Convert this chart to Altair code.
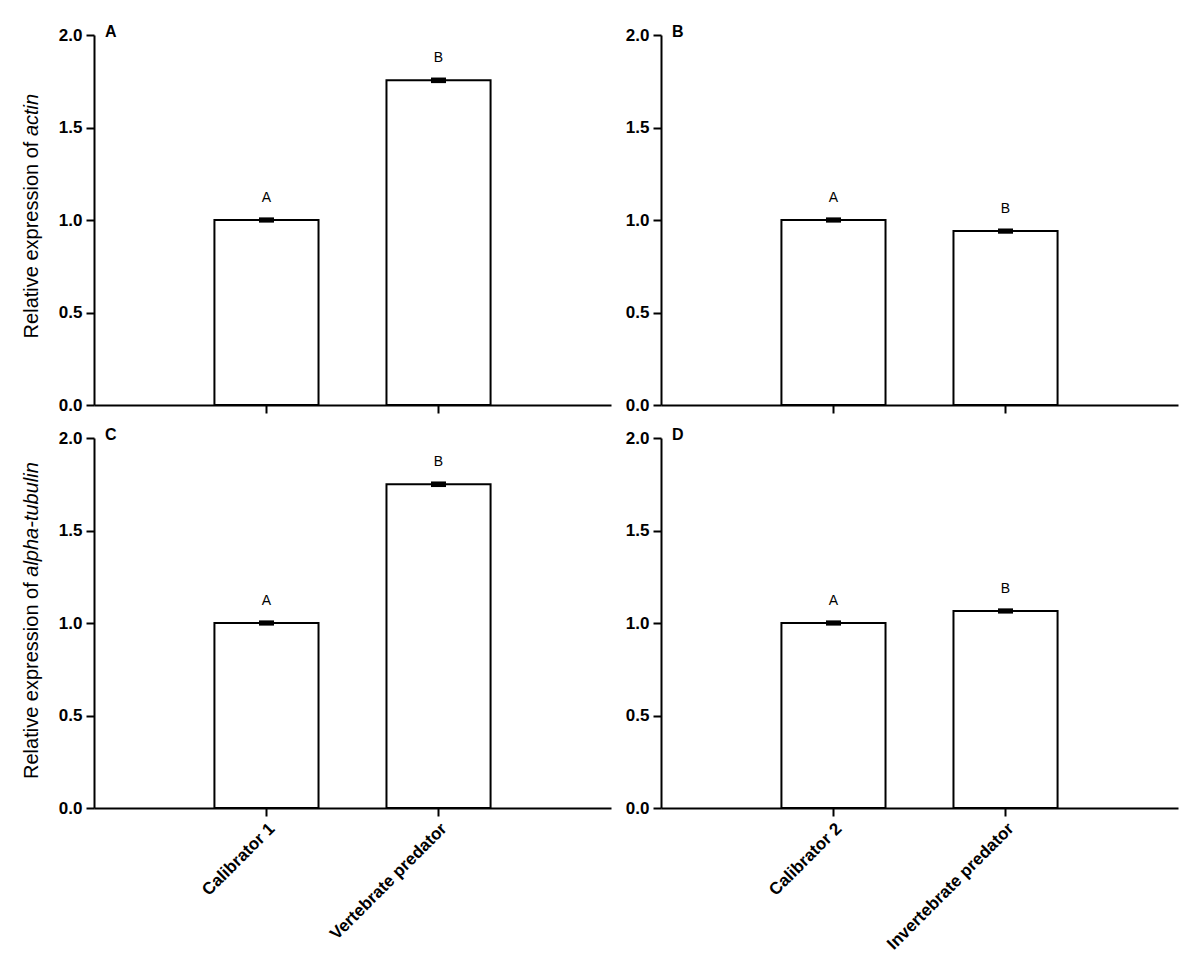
import altair as alt
import pandas as pd

# ---- data ----
left_groups = ["Calibrator 1", "Vertebrate predator"]
right_groups = ["Calibrator 2", "Invertebrate predator"]

actin_left = [1.0, 1.755]
actin_left_err = [0.006, 0.007]
actin_right = [1.0, 0.94]
actin_right_err = [0.006, 0.006]

tubulin_left = [1.0, 1.75]
tubulin_left_err = [0.006, 0.007]
tubulin_right = [1.0, 1.065]
tubulin_right_err = [0.006, 0.006]

sig_letters = ["A", "B"]
panel_labels = ["A", "B", "C", "D"]
gene_names = ["actin", "alpha-tubulin"]
title_prefix = "Relative expression of"
y_ticks = [0.0, 0.5, 1.0, 1.5, 2.0]

FONT = "Liberation Sans"
W, H = 517, 370


def panel(groups, values, errs, label, show_x_labels, gene=None, split=None):
    df = pd.DataFrame({
        "group": groups,
        "value": values,
        "lo": [v - e for v, e in zip(values, errs)],
        "hi": [v + e for v, e in zip(values, errs)],
        "letter": sig_letters,
    })
    x = alt.X(
        "group:N", sort=groups,
        scale=alt.Scale(paddingInner=0.395, paddingOuter=0.70),
        axis=alt.Axis(title=None, labels=show_x_labels, labelAngle=-45,
                      labelAlign="right", labelBaseline="top",
                      labelFontWeight="bold", labelFontSize=17, labelFont=FONT,
                      labelPadding=4, tickSize=8),
    )
    yscale = alt.Scale(domain=[0, 2], nice=False)
    y = alt.Y("value:Q", scale=yscale,
              axis=alt.Axis(values=y_ticks, format=".1f", title=None, grid=False,
                            labelFontWeight="bold", labelFontSize=17, labelFont=FONT,
                            tickSize=8, labelPadding=4))
    base = alt.Chart(df)
    bars = base.mark_bar(fill="white", stroke="black", strokeWidth=2).encode(x=x, y=y)
    err = base.mark_rule(color="black", strokeWidth=2).encode(
        x=x, y=alt.Y("lo:Q", scale=yscale), y2="hi:Q")
    cap_hi = base.mark_tick(color="black", thickness=3, size=15, opacity=1).encode(
        x=x, y=alt.Y("hi:Q", scale=yscale))
    cap_lo = base.mark_tick(color="black", thickness=3, size=15, opacity=1).encode(
        x=x, y=alt.Y("lo:Q", scale=yscale))
    letters = base.mark_text(dy=-21, fontSize=14, font=FONT, color="black").encode(
        x=x, y=alt.Y("hi:Q", scale=yscale), text="letter:N")
    plab = alt.Chart(pd.DataFrame({"lab": [label]})).mark_text(
        align="left", baseline="middle", fontSize=16, fontWeight="bold",
        font=FONT, color="black").encode(
        x=alt.value(11), y=alt.value(-3), text="lab:N")
    layers = [bars, err, cap_hi, cap_lo, letters, plab]
    if gene is not None:
        t1 = alt.Chart(pd.DataFrame({"t": [title_prefix]})).mark_text(
            angle=270, align="right", baseline="middle", fontSize=20,
            font=FONT, color="black").encode(
            x=alt.value(-62), y=alt.value(split), text="t:N")
        t2 = alt.Chart(pd.DataFrame({"t": [gene]})).mark_text(
            angle=270, align="left", baseline="middle", fontSize=20,
            fontStyle="italic", font=FONT, color="black").encode(
            x=alt.value(-62), y=alt.value(split - 5.5), text="t:N")
        layers += [t1, t2]
    return alt.layer(*layers).properties(width=W, height=H)


pA = panel(left_groups, actin_left, actin_left_err, panel_labels[0], False,
           gene_names[0], 106.6)
pB = panel(right_groups, actin_right, actin_right_err, panel_labels[1], False)
pC = panel(left_groups, tubulin_left, tubulin_left_err, panel_labels[2], True,
           gene_names[1], 144.2)
pD = panel(right_groups, tubulin_right, tubulin_right_err, panel_labels[3], True)

chart = alt.vconcat(
    alt.hconcat(pA, pB, spacing=14),
    alt.hconcat(pC, pD, spacing=14),
    spacing=13,
).properties(
    padding={"top": 16, "left": 13, "right": 5, "bottom": 5}
).configure_view(stroke=None).configure_axis(
    domainColor="black", domainWidth=2, tickColor="black", tickWidth=2,
    labelColor="black"
)

chart.save("out.html", embed_options={"renderer": "svg", "actions": False})
